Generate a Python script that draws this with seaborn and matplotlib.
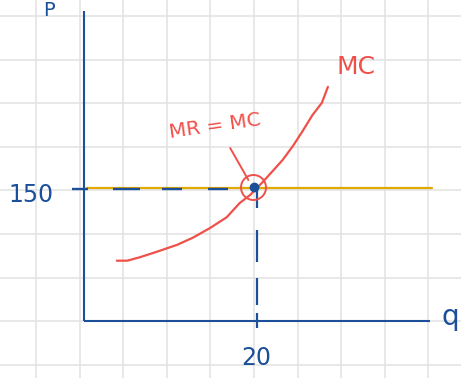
import numpy as np
import pandas as pd
import matplotlib
matplotlib.use("Agg")
import matplotlib.pyplot as plt
import seaborn as sns

# Marginal cost curve (quantity, price)
mc_q = [3.8, 5.0, 6.5, 8.4, 10.8, 12.6, 14.6, 16.5, 18.0, 19.2, 20.0, 20.6,
        21.9, 23.0, 24.2, 25.2, 26.4, 27.5, 28.2]
mc_p = [68, 68, 72, 78, 86, 94, 105, 117, 133, 142, 150, 156,
        170, 182, 198, 213, 232, 246, 264]

# Marginal revenue (= price) and the profit-maximising point
price = 150
q_star = 20
q_max = 40.2
y_label_val = "150"
x_label_val = "20"

sns.set_theme(style="whitegrid")
plt.rcParams["font.family"] = ["DejaVu Sans"]
plt.rcParams["lines.scale_dashes"] = False

W, H = 461, 378
fig = plt.figure(figsize=(W / 100, H / 100), dpi=100)
ax = fig.add_axes([0, 0, 1, 1])

# pixel scale of the drawing: origin at (84, 321) px
px_q = 8.65
px_p = 0.887
x0, y0 = 84, 321
ax.set_xlim(-x0 / px_q, (W - x0) / px_q)
ax.set_ylim(-(H - y0) / px_p, y0 / px_p)

# paper grid
gx = (np.arange(36, 461, 43.6) - x0) / px_q
gy = (y0 - np.arange(16, 378, 43.6)) / px_p
ax.set_xticks(gx)
ax.set_yticks(gy)
ax.set_xticklabels([])
ax.set_yticklabels([])
ax.tick_params(length=0)
ax.grid(True, color="#e2e2e2", linewidth=1.1)
for s in ax.spines.values():
    s.set_visible(False)
ax.set_facecolor("white")

blue = "#1b4f9a"
red = "#f0504a"
gold = "#e0a800"
pt = 0.72  # points per pixel

# axes drawn by hand
ax.plot([0, 0], [0, 349.5], color=blue, lw=1.5, solid_capstyle="butt")
ax.plot([0, 40.0], [0, 0], color=blue, lw=1.5, solid_capstyle="butt")

# MR line
ax.plot([0.3, q_max], [price, price], color=gold, lw=1.6, zorder=3)

# dashed guides to the axes
h_dash = [v * pt for v in (16, 25, 27, 22, 20, 26, 20, 200)]
ax.plot([-1.39, 16.65], [price - 1, price - 1], color=blue, lw=1.7,
        dashes=h_dash, zorder=4)
v_dash = [v * pt for v in (20, 22, 32, 16, 27, 8, 15, 200)]
ax.plot([q_star, q_star], [price, -7.9], color=blue, lw=1.6,
        dashes=v_dash, zorder=4)

# MC curve
df = pd.DataFrame({"q": mc_q, "p": mc_p})
sns.lineplot(data=df, x="q", y="p", sort=False, color=red, lw=1.6, ax=ax, zorder=5)
ax.set_xlabel("")
ax.set_ylabel("")

# equilibrium marker
ax.plot([q_star - 0.35], [price + 1], marker="o", color=blue, markersize=6, zorder=6)
ax.plot([q_star - 0.45], [price + 1], marker="o", markersize=18, markerfacecolor="none",
        markeredgecolor=red, markeredgewidth=1.4, zorder=6)

# pointer from the label
ax.plot([16.9, 19.0], [195, 159], color=red, lw=1.4, zorder=5)

# labels
ax.text(-4.05, 350, "P", color=blue, fontsize=14, ha="center", va="center")
ax.text(-6.1, 142, y_label_val, color=blue, fontsize=17, ha="center", va="center")
ax.text(19.9, -42, x_label_val, color=blue, fontsize=17, ha="center", va="center")
ax.text(42.3, 4, "q", color=blue, fontsize=20, ha="center", va="center")
ax.text(31.4, 286, "MC", color=red, fontsize=18, ha="center", va="center")
ax.text(15.1, 220, "MR = MC", color=red, fontsize=14.5, ha="center", va="center",
        rotation=8)

fig.savefig("out.png", dpi=100)
